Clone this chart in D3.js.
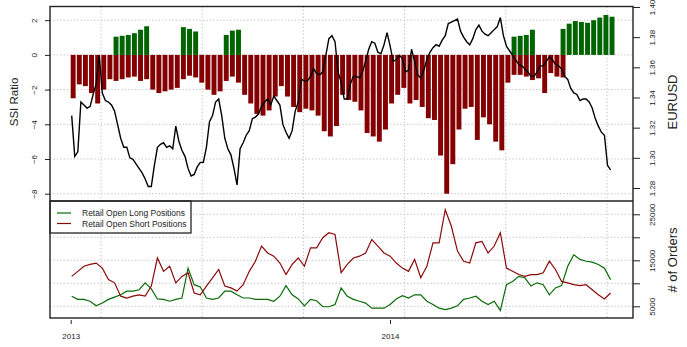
<!DOCTYPE html>
<html>
<head>
<meta charset="utf-8">
<script src="https://cdn.jsdelivr.net/npm/d3@7"></script>
<style>
 body { margin: 0; background: #fff; }
 text { font-family: "Liberation Sans", Arial, sans-serif; fill: #222; }
</style>
</head>
<body>
<script>
// weekly readings, first week starts 2013-01-01
var startDate = new Date(Date.UTC(2013, 0, 1));

var ssiShort = [-2.5,-1.7,-1.8,-2.2,-2.8,-2.0,-1.4,-1.5,-1.4,-1.3,-1.25,-1.5,-1.4,-2.0,-2.2,-2.1,-2.0,-1.9,-1.4,-1.2,
  -1.3,-1.6,-2.0,-2.3,-2.1,-1.5,-1.25,-1.6,-2.3,-2.8,-3.4,-3.5,-3.2,-2.4,-1.8,-2.4,-3.0,-3.3,-3.1,-3.2,
  -3.5,-4.4,-4.7,-4.1,-2.3,-2.6,-2.7,-3.2,-4.5,-4.7,-5.0,-4.3,-2.8,-2.3,-1.9,-2.8,-2.6,-3.0,-3.65,-3.75,
  -5.8,-8.0,-6.3,-4.3,-3.1,-3.0,-4.9,-3.6,-4.0,-5.0,-5.5,-1.6,-1.15,-1.15,-1.25,-1.45,-1.35,-2.2,-1.05,-1.25,
  -1.3,0,0,0,0,0,0,0,0];

var ssiLong = [0,0,0,0,0,0,0,1.05,1.1,1.15,1.25,1.45,1.65,0,0,0,0,0,1.6,1.5,
  1.35,0,0,0,0,1.15,1.4,1.45,0,0,0,0,0,0,0,0,0,0,0,0,
  0,0,0,0,0,0,0,0,0,0,0,0,0,0,0,0,0,0,0,0,
  0,0,0,0,0,0,0,0,0,0,0,0,1.05,1.1,1.15,1.45,0,0,0,0,
  1.5,1.8,1.95,1.9,1.85,2.0,2.15,2.3,2.2];

// EURUSD, two readings a week
var eurusd = [1.328,1.301,1.304,1.337,1.335,1.333,1.334,1.342,1.349,1.368,1.343,1.338,1.337,1.335,1.331,1.322,1.313,1.307,1.307,1.300,
  1.299,1.296,1.293,1.290,1.286,1.281,1.281,1.295,1.307,1.309,1.310,1.307,1.308,1.306,1.321,1.311,1.305,1.301,1.293,1.288,
  1.289,1.294,1.297,1.297,1.307,1.324,1.328,1.337,1.339,1.328,1.313,1.306,1.302,1.293,1.282,1.306,1.310,1.315,1.318,1.326,
  1.327,1.329,1.334,1.337,1.339,1.335,1.341,1.338,1.335,1.322,1.317,1.313,1.318,1.331,1.337,1.352,1.351,1.351,1.354,1.359,
  1.356,1.355,1.357,1.368,1.379,1.381,1.377,1.357,1.350,1.339,1.339,1.349,1.354,1.354,1.353,1.357,1.364,1.372,1.377,1.376,
  1.370,1.369,1.375,1.383,1.374,1.364,1.365,1.368,1.366,1.357,1.358,1.372,1.364,1.355,1.353,1.358,1.365,1.370,1.373,1.375,
  1.374,1.378,1.381,1.389,1.390,1.391,1.392,1.384,1.380,1.377,1.375,1.379,1.385,1.388,1.384,1.382,1.381,1.383,1.385,1.387,
  1.393,1.381,1.374,1.371,1.368,1.365,1.362,1.361,1.359,1.357,1.354,1.354,1.357,1.361,1.361,1.364,1.367,1.365,1.362,1.361,
  1.359,1.354,1.352,1.346,1.343,1.342,1.338,1.339,1.339,1.337,1.333,1.326,1.321,1.317,1.315,1.295,1.292];

var longPos = [7200,6500,6500,6100,5100,5700,6500,7000,7500,8300,8300,8600,10100,8800,6600,6500,6100,6500,6800,13300,
  9700,9200,6800,6500,6800,8300,8300,7500,6800,6800,6500,6500,6500,6100,7200,9500,7500,6600,5100,6500,
  6200,4900,4900,5400,9000,7200,6500,6100,5700,4600,4600,4600,5400,6600,7300,6800,7500,7500,6100,5400,
  4600,4300,4600,5100,6500,6800,7200,6100,5400,6100,4100,9700,10400,11500,11200,9400,10100,9700,7500,9000,
  9500,13700,16200,15200,14800,14600,14100,13300,10800];

var shortPos = [11500,12600,13700,14100,14400,13300,10800,10100,7200,6800,7200,7500,7200,9400,15500,12600,13700,10100,11500,12300,
  7900,7500,9400,11200,13000,9400,9000,8300,9700,12600,14800,18100,16600,15900,14400,11900,14100,15500,13700,17700,
  17700,19900,21000,20600,12300,14100,15500,15900,16600,19500,18100,16600,15900,14400,13300,12600,15200,11200,13700,18800,
  18800,26000,22400,17000,14800,14400,18800,19100,16600,18100,21000,13300,12600,11900,11500,11900,11900,12300,14800,13000,
  10400,10100,9700,9500,9700,8600,7500,6600,7900];

var ssiTicks = [-8, -6, -4, -2, 0, 2];
var fxTicks = [1.28, 1.30, 1.32, 1.34, 1.36, 1.38, 1.40];
var orderTicks = [5000, 10000, 15000, 20000, 25000];
var orderLabels = [5000, 15000, 25000];
var yearTicks = [new Date(Date.UTC(2013, 0, 1)), new Date(Date.UTC(2014, 0, 1))];
var legendNames = ["Retail Open Long Positions", "Retail Open Short Positions"];

var w = 687, h = 347;
var L = 50, R = 633, T = 6.5, MID = 201, B = 318;

var weeks = d3.range(ssiShort.length).map(function(i){ return d3.utcDay.offset(startDate, 7 * i); });
var fxDays = d3.range(eurusd.length).map(function(i){ return d3.utcHour.offset(startDate, 84 * i); });

var svg = d3.select("body").append("svg")
    .attr("width", w)
    .attr("height", h);

var x = d3.scaleUtc()
    .domain(yearTicks)
    .range([70.7, 390]);

var ySSI = d3.scaleLinear().domain([-8, 2]).range([193.7, 20.2]);
var yFX = d3.scaleLinear().domain([1.28, 1.40]).range([188, 7]);
var yOrd = d3.scaleLinear().domain([5000, 25000]).range([306.3, 214.3]);

// grid
var grid = svg.append("g")
    .attr("stroke", "#bdbdbd")
    .attr("stroke-width", 1)
    .attr("stroke-dasharray", "1.2,2.2");

var gridX = d3.range(0, 6).map(function(k){ return 101 + k * 101.2; });
grid.selectAll(".vg").data(gridX).enter().append("line")
    .attr("x1", function(d){ return d; }).attr("x2", function(d){ return d; })
    .attr("y1", T).attr("y2", B);
grid.selectAll(".hg1").data(ssiTicks).enter().append("line")
    .attr("x1", L).attr("x2", R)
    .attr("y1", function(d){ return ySSI(d); }).attr("y2", function(d){ return ySSI(d); });
grid.selectAll(".hg2").data(orderTicks).enter().append("line")
    .attr("x1", L).attr("x2", R)
    .attr("y1", function(d){ return yOrd(d); }).attr("y2", function(d){ return yOrd(d); });

// SSI bars
function barX(i){ return x(weeks[i]); }
function barW(i){ return x(d3.utcDay.offset(weeks[i], 7)) - x(weeks[i]) - 1.2; }

svg.append("g").selectAll("rect")
    .data(ssiShort.map(function(v, i){ return {i: i, v: v}; }).filter(function(d){ return d.v < 0; }))
    .enter().append("rect")
    .attr("x", function(d){ return barX(d.i); })
    .attr("width", function(d){ return barW(d.i); })
    .attr("y", ySSI(0))
    .attr("height", function(d){ return ySSI(d.v) - ySSI(0); })
    .attr("fill", "#850000");

svg.append("g").selectAll("rect")
    .data(ssiLong.map(function(v, i){ return {i: i, v: v}; }).filter(function(d){ return d.v > 0; }))
    .enter().append("rect")
    .attr("x", function(d){ return barX(d.i); })
    .attr("width", function(d){ return barW(d.i); })
    .attr("y", function(d){ return ySSI(d.v); })
    .attr("height", function(d){ return ySSI(0) - ySSI(d.v); })
    .attr("fill", "#006400");

// EURUSD line
svg.append("path")
    .datum(eurusd)
    .attr("fill", "none")
    .attr("stroke", "#000")
    .attr("stroke-width", 1.4)
    .attr("d", d3.line()
        .x(function(d, i){ return x(fxDays[i]) + 1; })
        .y(function(d){ return yFX(d); }));

// positions
var ordLine = d3.line()
    .x(function(d, i){ return x(weeks[i]) + 1; })
    .y(function(d){ return yOrd(d); });

svg.append("path").datum(longPos)
    .attr("fill", "none").attr("stroke", "#0a6a0a").attr("stroke-width", 1.2)
    .attr("d", ordLine);
svg.append("path").datum(shortPos)
    .attr("fill", "none").attr("stroke", "#8b0a0a").attr("stroke-width", 1.2)
    .attr("d", ordLine);

// legend
var lg = svg.append("g");
lg.append("rect")
    .attr("x", L).attr("y", MID).attr("width", 141).attr("height", 32)
    .attr("fill", "#fff").attr("stroke", "#111").attr("stroke-width", 1.2);
var lgCol = ["#0a6a0a", "#8b0a0a"];
legendNames.forEach(function(name, k){
    var ly = 213 + k * 10.5;
    lg.append("line").attr("x1", 57).attr("x2", 71).attr("y1", ly).attr("y2", ly)
        .attr("stroke", lgCol[k]).attr("stroke-width", 1.2);
    lg.append("text").attr("x", 82).attr("y", ly + 3).attr("font-size", "8.5px").text(name);
});

// frame
var fr = svg.append("g").attr("stroke", "#222").attr("stroke-width", 1.4).attr("fill", "none");
fr.append("rect").attr("x", L).attr("y", T).attr("width", R - L).attr("height", B - T);
fr.append("line").attr("x1", L).attr("x2", R).attr("y1", MID).attr("y2", MID);

// axes
function rotateLabels(g, off){
    g.select(".domain").remove();
    g.selectAll(".tick line").attr("stroke", "#222");
    g.selectAll(".tick text")
        .attr("x", 0).attr("y", off).attr("dy", 0)
        .attr("text-anchor", "middle")
        .attr("transform", "rotate(-90)")
        .attr("font-size", "8px");
}

svg.append("g").attr("transform", "translate(" + L + ",0)")
    .call(d3.axisLeft(ySSI).tickValues(ssiTicks).tickSize(5).tickFormat(d3.format("d")))
    .call(rotateLabels, -13);

svg.append("g").attr("transform", "translate(" + R + ",0)")
    .call(d3.axisRight(yFX).tickValues(fxTicks).tickSize(7).tickFormat(d3.format(".2f")))
    .call(rotateLabels, 22);

svg.append("g").attr("transform", "translate(" + R + ",0)")
    .call(d3.axisRight(yOrd).tickValues(orderTicks).tickSize(7)
        .tickFormat(function(d){ return orderLabels.indexOf(d) >= 0 ? d : ""; }))
    .call(rotateLabels, 22);

var xa = svg.append("g").attr("transform", "translate(0,320)")
    .call(d3.axisBottom(x).tickValues(yearTicks).tickSize(4).tickFormat(d3.utcFormat("%Y")));
xa.select(".domain").remove();
xa.selectAll(".tick line").attr("stroke", "#222");
xa.selectAll(".tick text").attr("font-size", "8px").attr("y", 13);

// titles
function vTitle(txt, tx, ty, size){
    svg.append("text")
        .attr("transform", "translate(" + tx + "," + ty + ") rotate(-90)")
        .attr("text-anchor", "middle")
        .attr("font-size", size)
        .attr("fill", "#1f2d3d")
        .text(txt);
}
vTitle("SSI Ratio", 18, 102, "11.5px");
vTitle("EURUSD", 677, 102, "13px");
vTitle("# of Orders", 677, 260, "13px");
</script>
</body>
</html>
